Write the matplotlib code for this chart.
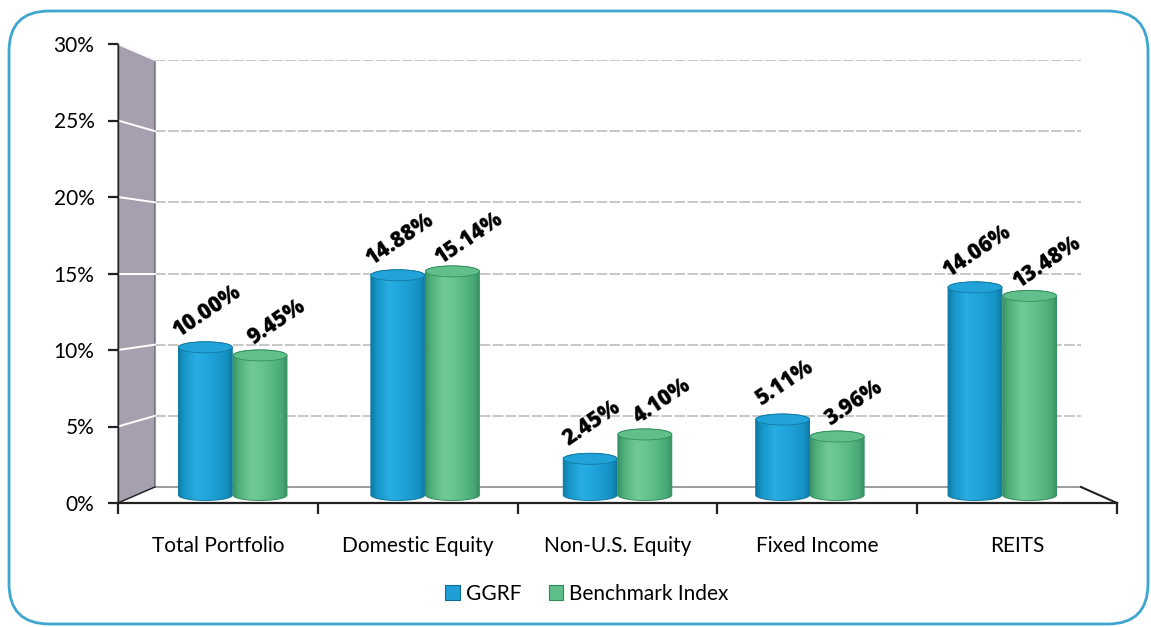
import numpy as np
import matplotlib
matplotlib.use("Agg")
import matplotlib.pyplot as plt
from matplotlib.patches import Polygon, Ellipse, FancyBboxPatch, Patch
from matplotlib.colors import LinearSegmentedColormap
from matplotlib.lines import Line2D

# ---- data ----
categories = ["Total Portfolio", "Domestic Equity", "Non-U.S. Equity", "Fixed Income", "REITS"]
ggrf = [10.00, 14.88, 2.45, 5.11, 14.06]
benchmark = [9.45, 15.14, 4.10, 3.96, 13.48]
series_names = ["GGRF", "Benchmark Index"]
y_ticks = [0, 5, 10, 15, 20, 25, 30]
y_tick_labels = ["0%", "5%", "10%", "15%", "20%", "25%", "30%"]

FONT = ["Lato", "DejaVu Sans"]
LABEL_FONT = ["Open Sans", "DejaVu Sans"]
plt.rcParams["font.family"] = FONT

W, H = 1151, 627
fig = plt.figure(figsize=(W / 100, H / 100), dpi=100)
fig.patch.set_facecolor("white")


def fx(x):
    return x / W


def fy(y):
    return 1 - y / H


def box(x0, y_top, x1, y_bot):
    return [fx(x0), fy(y_bot), (x1 - x0) / W, (y_bot - y_top) / H]


# rounded frame around the chart
frame = FancyBboxPatch((fx(9), fy(624)), fx(1148) - fx(9), fy(11) - fy(624),
                       boxstyle="round,pad=0,rounding_size=0.035",
                       transform=fig.transFigure, facecolor="white",
                       edgecolor="#3ea6cf", lw=2.0, mutation_aspect=W / H)
fig.add_artist(frame)

# geometry of the pseudo-3D box (front plane, back plane)
FX0, FX1, FY0, FY30 = 118, 1117, 503, 44
BX0, BX1, BY0, BY30 = 155, 1081, 487, 60
n = len(categories)


def front_y(v):
    return FY0 - (FY0 - FY30) * v / 30.0


def back_y(v):
    return BY0 - (BY0 - BY30) * v / 30.0


# back wall with gridlines
ax_back = fig.add_axes(box(BX0, BY30, BX1, BY0), zorder=1)
ax_back.set_xlim(0, n)
ax_back.set_ylim(0, 30)
ax_back.set_facecolor("white")
for s in ax_back.spines.values():
    s.set_visible(False)
ax_back.set_xticks([])
ax_back.set_yticks(y_ticks[1:])
ax_back.tick_params(left=False, labelleft=False)
ax_back.yaxis.grid(True, color="#b8b8b8", lw=1.1, ls=(0, (7, 1.5)))

# side wall
wall = Polygon([(fx(FX0), fy(FY30)), (fx(BX0), fy(BY30)), (fx(BX0), fy(BY0)), (fx(FX0), fy(FY0))],
               closed=True, transform=fig.transFigure, facecolor="#a59fb0",
               edgecolor="#5f5a66", lw=0.9, zorder=2)
fig.add_artist(wall)
for v in y_ticks[1:]:
    fig.add_artist(Line2D([fx(FX0), fx(BX0)], [fy(front_y(v)), fy(back_y(v))],
                          transform=fig.transFigure, color="white", lw=1.4, zorder=2.1))

# floor
floor = Polygon([(fx(FX0), fy(FY0)), (fx(BX0), fy(BY0)), (fx(BX1), fy(BY0)), (fx(FX1), fy(FY0))],
                closed=True, transform=fig.transFigure, facecolor="white",
                edgecolor="none", zorder=2)
fig.add_artist(floor)
fig.add_artist(Line2D([fx(BX0), fx(BX1)], [fy(BY0), fy(BY0)], transform=fig.transFigure,
                      color="#8c8c8c", lw=1.2, zorder=2.2))
fig.add_artist(Line2D([fx(BX1), fx(FX1)], [fy(BY0), fy(FY0)], transform=fig.transFigure,
                      color="#222222", lw=1.5, zorder=2.2))
fig.add_artist(Line2D([fx(FX0), fx(BX0)], [fy(FY0), fy(BY0)], transform=fig.transFigure,
                      color="#222222", lw=1.0, zorder=2.2))

# front axis (value scale and category labels)
ax_front = fig.add_axes(box(FX0, FY30, FX1, FY0), zorder=3)
ax_front.patch.set_alpha(0)
ax_front.set_xlim(0, n)
ax_front.set_ylim(0, 30)
for side in ("top", "right"):
    ax_front.spines[side].set_visible(False)
ax_front.spines["left"].set_color("#222222")
ax_front.spines["left"].set_linewidth(1.0)
ax_front.spines["bottom"].set_color("#222222")
ax_front.spines["bottom"].set_linewidth(1.6)
ax_front.set_yticks(y_ticks)
ax_front.set_yticklabels(y_tick_labels, fontsize=15, color="black")
ax_front.set_xticks(np.arange(n + 1))
ax_front.set_xticklabels([])
ax_front.set_xticks(np.arange(n) + 0.5, minor=True)
ax_front.set_xticklabels(categories, minor=True, fontsize=15, color="black")
ax_front.tick_params(axis="y", direction="out", length=7, width=1.6, color="#222222", pad=10)
ax_front.tick_params(axis="x", which="major", direction="out", length=8, width=1.6, color="#222222")
ax_front.tick_params(axis="x", which="minor", length=0, pad=24)

# bars at mid-depth
MX0, MX1, MY0, MY30 = 136.5, 1098.5, 495, 52
scale = (MY0 - MY30) / 30.0
ylow = -2.0
ax_mid = fig.add_axes(box(MX0, MY30, MX1, MY0 - ylow * scale), zorder=4)
ax_mid.patch.set_alpha(0)
ax_mid.set_axis_off()

blue_cmap = LinearSegmentedColormap.from_list(
    "blue_cyl", [(0, "#0d78a2"), (0.1, "#1694c6"), (0.35, "#28ade2"),
                 (0.6, "#1fa3d9"), (0.9, "#1590c3"), (1, "#0e78a2")])
green_cmap = LinearSegmentedColormap.from_list(
    "green_cyl", [(0, "#379463"), (0.1, "#4dae78"), (0.35, "#71cb98"),
                  (0.6, "#62c18b"), (0.9, "#4aaa75"), (1, "#369262")])

bar_w = 0.28
eh = 5.5 / scale  # half height of the cylinder ellipses in data units


def cylinder(ax, xc, height, cmap, top_face, rim):
    t_bot = np.linspace(np.pi, 2 * np.pi, 60)
    t_top = np.linspace(0, np.pi, 60)
    pts = np.concatenate([
        np.c_[xc + bar_w / 2 * np.cos(t_bot), eh * np.sin(t_bot)],
        np.c_[xc + bar_w / 2 * np.cos(t_top), height + eh * np.sin(t_top)],
    ])
    body = Polygon(pts, closed=True, facecolor="none", edgecolor=rim, lw=0.7, zorder=3)
    ax.add_patch(body)
    grad = np.linspace(0, 1, 256).reshape(1, -1)
    im = ax.imshow(grad, cmap=cmap, extent=[xc - bar_w / 2, xc + bar_w / 2, -eh, height + eh],
                   aspect="auto", origin="lower", zorder=2, interpolation="bilinear")
    im.set_clip_path(body)
    ax.add_patch(Ellipse((xc, height), bar_w, 2 * eh, facecolor=top_face,
                         edgecolor=rim, lw=0.6, zorder=4))


x = np.arange(n)
offset = 0.142
for i in range(n):
    cylinder(ax_mid, x[i] - offset, ggrf[i], blue_cmap, "#21a2d8", "#117aa3")
    cylinder(ax_mid, x[i] + offset, benchmark[i], green_cmap, "#60bf8a", "#338e5e")

label_kw = dict(textcoords="offset points", rotation=34, rotation_mode="anchor",
                ha="center", va="center", fontsize=15.5, fontweight="heavy",
                family=LABEL_FONT, color="black", zorder=6)
for i in range(n):
    ax_mid.annotate(f"{ggrf[i]:.2f}%", (x[i] - offset, ggrf[i]), xytext=(1, 26), **label_kw)
    ax_mid.annotate(f"{benchmark[i]:.2f}%", (x[i] + offset, benchmark[i]), xytext=(12, 24), **label_kw)

ax_mid.set_xlim(-0.5, n - 0.5)
ax_mid.set_ylim(ylow, 30)

# legend
handles = [Patch(facecolor="#1e9fd6", edgecolor="#0c6d94", lw=0.8),
           Patch(facecolor="#5fbf8a", edgecolor="#2f8a5a", lw=0.8)]
fig.legend(handles, series_names, loc="center", bbox_to_anchor=(fx(587), fy(594)),
           ncol=2, frameon=False, fontsize=15, handlelength=0.7, handleheight=0.7,
           handletextpad=0.3, columnspacing=1.3)

fig.savefig("out.png", dpi=100, facecolor="white")
